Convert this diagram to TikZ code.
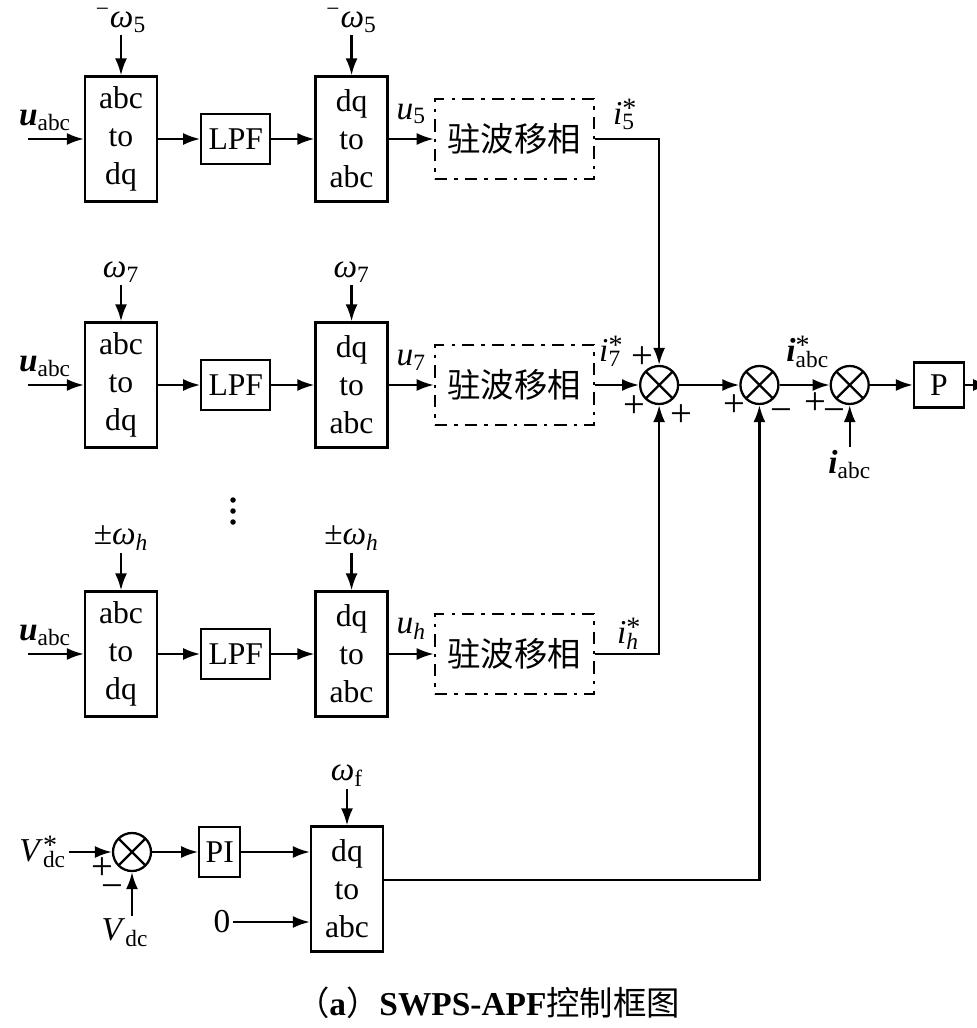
\documentclass[tikz,border=0pt]{standalone}
\usepackage{fontspec}
\setmainfont{Liberation Serif}
\newfontfamily\cjk{Noto Sans CJK SC}
\usetikzlibrary{positioning,arrows.meta,calc}
\newcommand{\markvar}[3]{#1\rlap{\raisebox{4pt}{\fontsize{16}{16}\selectfont #2}}\textsubscript{#3}}

\begin{document}
\begin{tikzpicture}[>={Latex[length=0.34cm,width=0.24cm]},line width=1.3pt,font=\fontsize{18}{21.6}\selectfont]
\tikzstyle{conv}=[draw,align=center,minimum width=1.44cm,minimum height=2.5cm,inner sep=0pt]
\tikzstyle{filt}=[draw,minimum width=1.38cm,minimum height=1.0cm,inner sep=0pt]
\tikzstyle{shifter}=[draw,dash pattern=on 7pt off 4pt on 2pt off 4pt,minimum width=3.18cm,minimum height=1.6cm,font=\cjk\fontsize{19}{22}\selectfont]
\tikzstyle{sumnode}=[draw,circle,minimum size=0.76cm,inner sep=0pt,path picture={\draw (path picture bounding box.north west) -- (path picture bounding box.south east) (path picture bounding box.north east) -- (path picture bounding box.south west);}]
\tikzstyle{lbl}=[inner sep=1pt,font=\fontsize{19}{22}\selectfont]
\tikzstyle{sgn}=[inner sep=0pt,font=\fontsize{22}{22}\selectfont]

\useasboundingbox (0,0) rectangle (19.52,-20.56);

% 5th harmonic
\node[conv] (abc1) at (2.42,-2.78) {abc\\to\\dq};
\node[filt,right=0.84cm of abc1] (lpf1) {LPF};
\node[conv,right=0.86cm of lpf1] (dqabc1) {dq\\to\\abc};
\node[shifter,right=0.9cm of dqabc1] (ps1) {驻波移相};
\coordinate (uin1) at (0.56,-2.78);
\node[lbl,above=0.1cm of uin1,xshift=0.34cm] (u1) {\textbf{\textit{u}}\textsubscript{abc}};
\node[lbl,above=0.8cm of abc1] (w1a) {\textsuperscript{−}\textit{ω}\textsubscript{5}};
\node[lbl,above=0.8cm of dqabc1] (w1b) {\textsuperscript{−}\textit{ω}\textsubscript{5}};
\node[lbl] (u5) at ($(dqabc1.east)!0.5!(ps1.west)+(0,0.5)$) {\textit{u}\textsubscript{5}};
\node[lbl] (i5) at ($(ps1.east)+(0.58,0.5)$) {\markvar{\textit{i}}{*}{5}};

% 7th harmonic
\node[conv] (abc2) at (2.42,-7.7) {abc\\to\\dq};
\node[filt,right=0.84cm of abc2] (lpf2) {LPF};
\node[conv,right=0.86cm of lpf2] (dqabc2) {dq\\to\\abc};
\node[shifter,right=0.9cm of dqabc2] (ps2) {驻波移相};
\coordinate (uin2) at (0.56,-7.7);
\node[lbl,above=0.1cm of uin2,xshift=0.34cm] (u2) {\textbf{\textit{u}}\textsubscript{abc}};
\node[lbl,above=0.72cm of abc2] (w2a) {\textit{ω}\textsubscript{7}};
\node[lbl,above=0.72cm of dqabc2] (w2b) {\textit{ω}\textsubscript{7}};
\node[lbl] (u7) at ($(dqabc2.east)!0.5!(ps2.west)+(0,0.5)$) {\textit{u}\textsubscript{7}};

% h-th harmonic
\node[conv] (abc3) at (2.42,-13.08) {abc\\to\\dq};
\node[filt,right=0.84cm of abc3] (lpf3) {LPF};
\node[conv,right=0.86cm of lpf3] (dqabc3) {dq\\to\\abc};
\node[shifter,right=0.9cm of dqabc3] (ps3) {驻波移相};
\coordinate (uin3) at (0.56,-13.08);
\node[lbl,above=0.1cm of uin3,xshift=0.34cm] (u3) {\textbf{\textit{u}}\textsubscript{abc}};
\node[lbl,above=0.74cm of abc3] (w3a) {±\textit{ω}\textsubscript{\textit{h}}};
\node[lbl,above=0.74cm of dqabc3] (w3b) {±\textit{ω}\textsubscript{\textit{h}}};
\node[lbl] (uh) at ($(dqabc3.east)!0.5!(ps3.west)+(0,0.5)$) {\textit{u}\textsubscript{\textit{h}}};
\node[lbl] (ih) at ($(ps3.east)+(0.66,0.4)$) {\markvar{\textit{i}}{*}{\textit{h}}};
\coordinate (dots) at (4.66,-10.0);
\foreach \dy in {0,0.22,0.44}
  \fill ($(dots)+(0,-\dy)$) circle (0.055);

% summing and output
\node[sumnode,right=0.88cm of ps2] (J1) {};
\node[sumnode,right=1.2cm of J1] (J2) {};
\node[sumnode,right=1.0cm of J2] (J3) {};
\node[draw,minimum width=1.0cm,minimum height=0.9cm,inner sep=0pt,right=0.86cm of J3] (P) {P};
\coordinate[right=0.5cm of P] (out);
\node[lbl] (i7) at ($(J1)+(-0.98,0.68)$) {\markvar{\textit{i}}{*}{7}};
\node[lbl] (iref) at ($(J3)+(-0.84,0.66)$) {\markvar{\textbf{\textit{i}}}{*}{abc}};
\node[lbl,below=0.84cm of J3] (iabc) {\textbf{\textit{i}}\textsubscript{abc}};
\node[sgn] (s1a) at ($(J1)+(-0.34,0.54)$) {+};
\node[sgn] (s1b) at ($(J1)+(-0.5,-0.44)$) {+};
\node[sgn] (s1c) at ($(J1)+(0.44,-0.62)$) {+};
\node[sgn] (s2a) at ($(J2)+(-0.5,-0.42)$) {+};
\node[sgn] (s2b) at ($(J2)+(0.44,-0.62)$) {−};
\node[sgn] (s3a) at ($(J3)+(-0.68,-0.38)$) {+};
\node[sgn] (s3b) at ($(J3)+(-0.3,-0.62)$) {−};

% DC voltage loop
\node[sumnode] (J0) at (2.64,-17.04) {};
\node[filt,minimum width=0.82cm,right=0.92cm of J0] (pi) {PI};
\node[conv] (dqabc4) at (6.94,-17.78) {dq\\to\\abc};
\node[lbl,above=0.72cm of dqabc4] (wf) {\textit{ω}\textsubscript{f}};
\node[lbl,left=0.86cm of J0] (vref) {\markvar{\textit{V}}{*}{dc}};
\node[lbl,below=0.88cm of J0,xshift=-0.14cm] (vfb) {\textit{V}\textsubscript{dc}};
\node[lbl] (zero) at (4.44,-18.44) {0};
\node[sgn] (s0a) at ($(J0)+(-0.6,-0.34)$) {+};
\node[sgn] (s0b) at ($(J0)+(-0.4,-0.8)$) {−};

\draw[->] (uin1) -- (abc1);
\draw[->] (abc1) -- (lpf1);
\draw[->] (lpf1) -- (dqabc1);
\draw[->] (dqabc1) -- (ps1);
\draw[->] (w1a) -- (abc1);
\draw[->] (w1b) -- (dqabc1);

\draw[->] (uin2) -- (abc2);
\draw[->] (abc2) -- (lpf2);
\draw[->] (lpf2) -- (dqabc2);
\draw[->] (dqabc2) -- (ps2);
\draw[->] (w2a) -- (abc2);
\draw[->] (w2b) -- (dqabc2);

\draw[->] (uin3) -- (abc3);
\draw[->] (abc3) -- (lpf3);
\draw[->] (lpf3) -- (dqabc3);
\draw[->] (dqabc3) -- (ps3);
\draw[->] (w3a) -- (abc3);
\draw[->] (w3b) -- (dqabc3);

\draw[->] (ps1.east) -| (J1.north);
\draw[->] (ps2) -- (J1);
\draw[->] (ps3.east) -| (J1.south);
\draw[->] (J1) -- (J2);
\draw[->] (J2) -- (J3);
\draw[->] (J3) -- (P);
\draw[->] (P) -- (out);
\draw[->] (iabc) -- (J3);

\draw[->] (vref) -- (J0);
\draw[->] (vfb.north -| J0.south) -- (J0.south);
\draw[->] (J0) -- (pi);
\draw[->] (pi) -- (pi -| dqabc4.west);
\draw[->] (zero) -- (zero -| dqabc4.west);
\draw[->] (wf) -- (dqabc4);
\draw[->] ([yshift=0.18cm]dqabc4.east) -| (J2.south);

\node (cap) at (9.76,-20.06) {\fontsize{19}{22}\selectfont{\cjk （}\textbf{a}{\cjk ）}\textbf{SWPS-APF}{\cjk 控制框图}};
\end{tikzpicture}
\end{document}
